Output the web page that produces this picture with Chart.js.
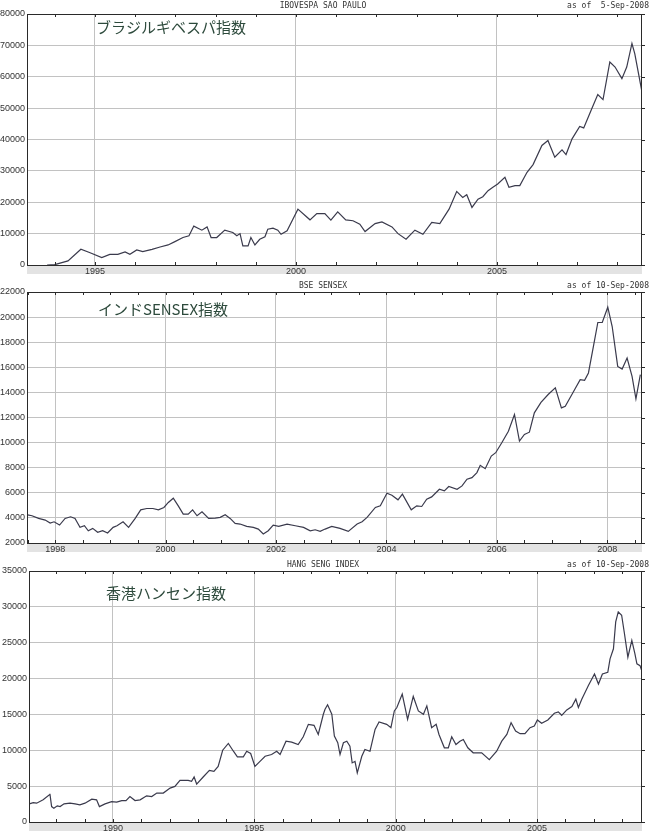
<!DOCTYPE html>
<html lang="ja">
<head>
<meta charset="utf-8">
<title>株価指数</title>
<script src="https://cdn.jsdelivr.net/npm/chart.js@4.4.1/dist/chart.umd.min.js"></script>
<style>
  html, body { margin: 0; padding: 0; background: #fff; }
  #wrap { position: relative; width: 650px; height: 836px; }
  .box { position: absolute; left: 0; width: 650px; }
  canvas { display: block; }
</style>
</head>
<body>
<div id="wrap">
  <div class="box" style="top:0"><canvas id="ibovChart" width="650" height="280"></canvas></div>
  <div class="box" style="top:280px"><canvas id="sensexChart" width="650" height="280"></canvas></div>
  <div class="box" style="top:560px"><canvas id="hsiChart" width="650" height="276"></canvas></div>
</div>
<script>
// ===== データ =====
// 1. ブラジル IBOVESPA
const ibovYears = [1993.81, 1994.00, 1994.33, 1994.65, 1994.88, 1995.17, 1995.37, 1995.57, 1995.75, 1995.87,
  1996.04, 1996.19, 1996.42, 1996.62, 1996.82, 1996.99, 1997.19, 1997.34, 1997.46, 1997.66,
  1997.79, 1997.89, 1998.03, 1998.23, 1998.43, 1998.53, 1998.61, 1998.68, 1998.81, 1998.88,
  1998.98, 1999.10, 1999.23, 1999.30, 1999.43, 1999.55, 1999.63, 1999.78, 2000.05, 2000.35,
  2000.52, 2000.72, 2000.87, 2001.04, 2001.24, 2001.42, 2001.59, 2001.72, 2001.97, 2002.14,
  2002.39, 2002.54, 2002.74, 2002.96, 2003.16, 2003.38, 2003.58, 2003.81, 2004.00, 2004.15,
  2004.25, 2004.38, 2004.53, 2004.65, 2004.78, 2004.90, 2005.02, 2005.20, 2005.30, 2005.45,
  2005.57, 2005.75, 2005.90, 2006.12, 2006.27, 2006.44, 2006.62, 2006.72, 2006.87, 2007.06,
  2007.16, 2007.36, 2007.51, 2007.64, 2007.81, 2007.94, 2008.11, 2008.23, 2008.36, 2008.43, 2008.61];
const ibovValues = [0, 100, 1300, 5000, 3900, 2350, 3400, 3400, 4150, 3400,
  4800, 4250, 5000, 5750, 6400, 7450, 8750, 9300, 12400, 11100,
  12150, 8750, 8750, 11100, 10350, 9300, 10000, 6080, 6080, 8750,
  6400, 8200, 9000, 11400, 11750, 11100, 9800, 10900, 17800, 14400,
  16400, 16400, 14300, 16950, 14400, 14100, 13000, 10650, 13200, 13750,
  12150, 10000, 8200, 11100, 9800, 13550, 13200, 17800, 23450, 21550,
  22400, 18350, 21000, 21750, 23700, 24750, 25800, 27950, 24750, 25300,
  25300, 29550, 32000, 38100, 39700, 34350, 36700, 35200, 40200, 44160,
  43700, 49800, 54300, 52700, 64700, 63100, 59400, 63100, 70600, 67400, 55100];
const ibovTickYears = [1994, 1995, 1996, 1997, 1998, 1999, 2000, 2001, 2002, 2003, 2004, 2005, 2006, 2007, 2008];
const ibovLabelYears = [1995, 2000, 2005];
const ibovYTicks = [0, 10000, 20000, 30000, 40000, 50000, 60000, 70000, 80000];

// 2. インド SENSEX
const sensexYears = [1997.50, 1997.58, 1997.70, 1997.82, 1997.91, 1997.98, 1998.08, 1998.18, 1998.28, 1998.36,
  1998.45, 1998.53, 1998.60, 1998.68, 1998.77, 1998.86, 1998.95, 1999.05, 1999.12, 1999.23,
  1999.33, 1999.45, 1999.55, 1999.66, 1999.77, 1999.87, 1999.97, 2000.05, 2000.14, 2000.23,
  2000.32, 2000.41, 2000.49, 2000.57, 2000.66, 2000.78, 2000.90, 2000.99, 2001.08, 2001.17,
  2001.26, 2001.35, 2001.47, 2001.59, 2001.68, 2001.77, 2001.86, 2001.95, 2002.05, 2002.20,
  2002.35, 2002.50, 2002.62, 2002.71, 2002.80, 2002.89, 2003.01, 2003.16, 2003.31, 2003.47,
  2003.56, 2003.65, 2003.80, 2003.89, 2004.01, 2004.10, 2004.21, 2004.29, 2004.45, 2004.55,
  2004.64, 2004.73, 2004.82, 2004.96, 2005.05, 2005.13, 2005.28, 2005.37, 2005.46, 2005.55,
  2005.64, 2005.70, 2005.79, 2005.90, 2005.98, 2006.09, 2006.21, 2006.32, 2006.41, 2006.50,
  2006.59, 2006.68, 2006.80, 2006.93, 2007.06, 2007.17, 2007.24, 2007.36, 2007.51, 2007.59,
  2007.66, 2007.75, 2007.83, 2007.91, 2008.01, 2008.09, 2008.19, 2008.27, 2008.36, 2008.45,
  2008.52, 2008.60];
const sensexValues = [4245, 4170, 3960, 3825, 3590, 3690, 3430, 3960, 4090, 3960,
  3245, 3375, 2975, 3165, 2850, 2975, 2795, 3245, 3375, 3690,
  3245, 3960, 4645, 4750, 4750, 4645, 4830, 5230, 5570, 4960,
  4300, 4300, 4645, 4170, 4485, 3960, 3985, 4040, 4245, 3960,
  3565, 3510, 3325, 3245, 3110, 2715, 2975, 3430, 3325, 3510,
  3375, 3245, 2975, 3055, 2925, 3110, 3325, 3165, 2925, 3510,
  3690, 4040, 4830, 4960, 5970, 5810, 5440, 5890, 4645, 4960,
  4910, 5490, 5675, 6285, 6150, 6500, 6285, 6550, 7080, 7210,
  7610, 8190, 7925, 8930, 9195, 9990, 10910, 12240, 10120, 10650,
  10830, 12370, 13210, 13830, 14360, 12770, 12900, 13830, 15020, 14960,
  15550, 17660, 19570, 19570, 20790, 19250, 16070, 15860, 16740, 15280,
  13480, 15410];
const sensexTickYears = [1997.5, 1998, 1998.5, 1999, 1999.5, 2000, 2000.5, 2001, 2001.5, 2002, 2002.5,
  2003, 2003.5, 2004, 2004.5, 2005, 2005.5, 2006, 2006.5, 2007, 2007.5, 2008, 2008.5];
const sensexLabelYears = [1998, 2000, 2002, 2004, 2006, 2008];
const sensexYTicks = [2000, 4000, 6000, 8000, 10000, 12000, 14000, 16000, 18000, 20000, 22000];

// 3. 香港 ハンセン
const hsiYears = [1987.04, 1987.18, 1987.30, 1987.53, 1987.75, 1987.77, 1987.83, 1987.91, 1988.03, 1988.13,
  1988.27, 1988.48, 1988.66, 1988.83, 1989.01, 1989.25, 1989.42, 1989.52, 1989.72, 1989.95,
  1990.13, 1990.31, 1990.46, 1990.60, 1990.78, 1990.96, 1991.19, 1991.37, 1991.55, 1991.78,
  1992.02, 1992.19, 1992.37, 1992.66, 1992.78, 1992.87, 1992.96, 1993.19, 1993.41, 1993.57,
  1993.72, 1993.88, 1994.08, 1994.26, 1994.40, 1994.61, 1994.73, 1994.87, 1995.02, 1995.20,
  1995.38, 1995.61, 1995.79, 1995.91, 1996.12, 1996.32, 1996.55, 1996.73, 1996.91, 1997.11,
  1997.26, 1997.44, 1997.50, 1997.59, 1997.74, 1997.83, 1997.95, 1998.03, 1998.15, 1998.27,
  1998.38, 1998.46, 1998.56, 1998.64, 1998.80, 1998.91, 1999.09, 1999.27, 1999.41, 1999.68,
  1999.83, 1999.95, 2000.04, 2000.23, 2000.42, 2000.62, 2000.80, 2000.98, 2001.10, 2001.27,
  2001.43, 2001.53, 2001.72, 2001.86, 2001.98, 2002.13, 2002.27, 2002.39, 2002.55, 2002.74,
  2003.04, 2003.31, 2003.57, 2003.75, 2003.93, 2004.08, 2004.24, 2004.40, 2004.57, 2004.75,
  2004.90, 2005.01, 2005.16, 2005.38, 2005.61, 2005.75, 2005.87, 2006.05, 2006.23, 2006.37,
  2006.46, 2006.58, 2006.81, 2007.03, 2007.17, 2007.31, 2007.50, 2007.58, 2007.70, 2007.78,
  2007.87, 2007.99, 2008.09, 2008.21, 2008.35, 2008.46, 2008.53, 2008.64, 2008.70];
const hsiValues = [2530, 2710, 2625, 3090, 3790, 3930, 2150, 1920, 2250, 2150,
  2530, 2625, 2530, 2390, 2625, 3190, 3090, 2150, 2530, 2850,
  2765, 2990, 2990, 3550, 2990, 3090, 3650, 3550, 4030, 4030,
  4730, 4960, 5800, 5800, 5660, 6275, 5290, 6275, 7200, 7060,
  7760, 10010, 10950, 9870, 9080, 9080, 9870, 9550, 7760, 8460,
  9170, 9410, 9870, 9410, 11270, 11130, 10810, 11890, 13620, 13480,
  12210, 15020, 15720, 16350, 15020, 11980, 11050, 9410, 11050, 11270,
  10570, 8240, 8460, 6840, 9170, 10110, 9870, 12920, 13940, 13620,
  13150, 15490, 15960, 17830, 14320, 17510, 15490, 15020, 16190, 13150,
  13620, 12210, 10350, 10350, 11890, 10810, 11270, 11510, 10350, 9650,
  9650, 8700, 9870, 11270, 12210, 13860, 12680, 12310, 12310, 13150,
  13380, 14220, 13760, 14220, 15160, 15350, 14880, 15630, 16100, 17130,
  15960, 17130, 19000, 20640, 19240, 20640, 20880, 22750, 24150, 27900,
  29300, 28830, 26250, 22980, 25320, 23450, 22050, 21800, 21100];
const hsiTickYears = [1988, 1989, 1990, 1991, 1992, 1993, 1994, 1995, 1996, 1997, 1998, 1999, 2000,
  2001, 2002, 2003, 2004, 2005, 2006, 2007, 2008];
const hsiLabelYears = [1990, 1995, 2000, 2005];
const hsiYTicks = [0, 5000, 10000, 15000, 20000, 25000, 30000, 35000];

// ===== 描画 =====
const lineColor = '#3a3a4c';
const gridColor = '#c2c2c2';
const frameColor = '#2a2a2a';

function makeChart(id, s) {
    // 枠・帯・見出しを描くプラグイン
    const framePlugin = {
        id: 'frame_' + id,
        beforeDraw(chart) {
            const a = chart.chartArea, ctx = chart.ctx;
            ctx.save();
            ctx.fillStyle = '#e3e3e3';
            ctx.fillRect(a.left, a.bottom, a.right - a.left, 9);
            ctx.restore();
        },
        afterDraw(chart) {
            const a = chart.chartArea, ctx = chart.ctx;
            const xs = chart.scales.x, ys = chart.scales.y;
            ctx.save();
            ctx.strokeStyle = frameColor;
            ctx.lineWidth = 1;
            ctx.strokeRect(a.left + 0.5, a.top + 0.5, a.right - a.left - 1, a.bottom - a.top);
            // 目盛り (上下の内側)
            ctx.beginPath();
            s.tickYears.forEach(v => {
                const px = Math.round(xs.getPixelForValue(v)) + 0.5;
                ctx.moveTo(px, a.top); ctx.lineTo(px, a.top + 3);
                ctx.moveTo(px, a.bottom - 3); ctx.lineTo(px, a.bottom);
            });
            s.yTicks.forEach(v => {
                const py = Math.round(ys.getPixelForValue(v)) + 0.5;
                ctx.moveTo(a.right, py); ctx.lineTo(a.right + 3, py);
            });
            ctx.stroke();
            // 見出し
            ctx.fillStyle = '#333';
            ctx.font = '8px "DejaVu Sans Mono"';
            ctx.textBaseline = 'alphabetic';
            ctx.textAlign = 'center';
            ctx.fillText(s.header, 323, s.headerY);
            ctx.textAlign = 'right';
            ctx.fillText(s.asOf, 649, s.headerY);
            // 日本語ラベル
            ctx.fillStyle = '#2d4a3c';
            ctx.font = '15px "Noto Sans CJK JP"';
            ctx.textAlign = 'left';
            ctx.textBaseline = 'middle';
            ctx.fillText(s.label, s.labelX, s.labelY);
            ctx.restore();
        }
    };

    return new Chart(document.getElementById(id), {
        type: 'line',
        data: {
            datasets: [{
                data: s.years.map((x, i) => ({ x: x, y: s.values[i] })),
                borderColor: lineColor,
                borderWidth: 1.2,
                pointRadius: 0,
                tension: 0,
                fill: false
            }]
        },
        options: {
            responsive: false,
            animation: false,
            devicePixelRatio: 1,
            layout: { padding: { top: s.top, right: 8, left: 0, bottom: 0 } },
            plugins: { legend: { display: false }, tooltip: { enabled: false } },
            scales: {
                x: {
                    type: 'linear', min: s.xMin, max: s.xMax,
                    afterBuildTicks: sc => { sc.ticks = s.tickYears.map(v => ({ value: v })); },
                    afterFit: sc => { sc.height = s.xAxisH; },
                    grid: {
                        drawTicks: false,
                        color: c => (c.tick && s.labelYears.includes(c.tick.value)) ? gridColor : 'rgba(0,0,0,0)'
                    },
                    border: { display: true, color: frameColor, width: 1 },
                    ticks: {
                        autoSkip: false, maxRotation: 0, padding: 1,
                        color: '#333', font: { family: 'Liberation Sans', size: 9 },
                        callback: v => s.labelYears.includes(v) ? String(v) : ''
                    }
                },
                y: {
                    min: s.yTicks[0], max: s.yTicks[s.yTicks.length - 1],
                    afterBuildTicks: sc => { sc.ticks = s.yTicks.map(v => ({ value: v })); },
                    afterFit: sc => { sc.width = s.yAxisW; },
                    grid: { drawTicks: false, color: gridColor },
                    border: { display: true, color: frameColor, width: 1 },
                    ticks: {
                        padding: 2, color: '#333',
                        font: { family: 'Liberation Sans', size: 9 },
                        callback: v => String(v)
                    }
                }
            }
        },
        plugins: [framePlugin]
    });
}

document.addEventListener('DOMContentLoaded', function() {
    makeChart('ibovChart', {
        years: ibovYears, values: ibovValues, tickYears: ibovTickYears, labelYears: ibovLabelYears, yTicks: ibovYTicks,
        xMin: 1993.31, xMax: 2008.61, top: 14, xAxisH: 15, yAxisW: 27,
        header: 'IBOVESPA SAO PAULO', asOf: 'as of  5-Sep-2008', headerY: 8,
        label: 'ブラジルギベスパ指数', labelX: 96, labelY: 27
    });
    makeChart('sensexChart', {
        years: sensexYears, values: sensexValues, tickYears: sensexTickYears, labelYears: sensexLabelYears, yTicks: sensexYTicks,
        xMin: 1997.49, xMax: 2008.63, top: 12, xAxisH: 17, yAxisW: 27,
        header: 'BSE SENSEX', asOf: 'as of 10-Sep-2008', headerY: 8,
        label: 'インドSENSEX指数', labelX: 98, labelY: 29
    });
    makeChart('hsiChart', {
        years: hsiYears, values: hsiValues, tickYears: hsiTickYears, labelYears: hsiLabelYears, yTicks: hsiYTicks,
        xMin: 1987.03, xMax: 2008.71, top: 11, xAxisH: 14, yAxisW: 29,
        header: 'HANG SENG INDEX', asOf: 'as of 10-Sep-2008', headerY: 7,
        label: '香港ハンセン指数', labelX: 106, labelY: 33
    });
});
</script>
</body>
</html>
